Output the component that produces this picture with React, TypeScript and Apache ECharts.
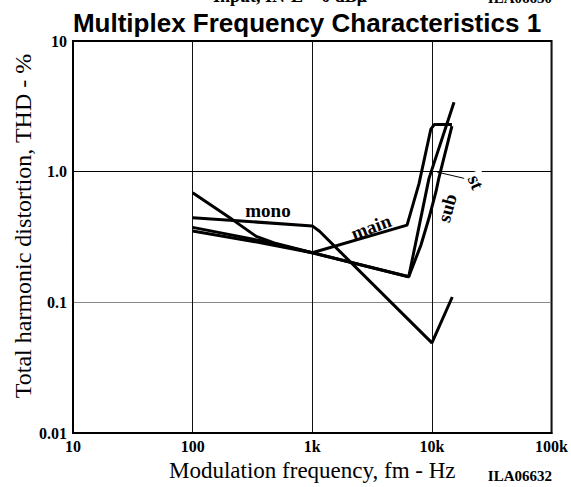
import React, { useEffect, useRef } from "react";
import * as echarts from "echarts";

// Frequencies (Hz) and THD values (%)
const monoFreq = [100, 1000, 1150, 10000, 14800];
const monoThd = [0.445, 0.385, 0.35, 0.049, 0.11];

const mainFreq = [100, 380, 1000, 6200, 7800, 9800, 10500, 14700];
const mainThd = [0.375, 0.295, 0.24, 0.39, 0.81, 2.12, 2.3, 2.3];

const stFreq = [100, 215, 340, 480, 1000, 6400, 9440, 15300];
const stThd = [0.69, 0.43, 0.32, 0.285, 0.24, 0.157, 0.885, 3.4];

const subFreq = [100, 380, 1000, 6400, 8100, 9440, 10800, 11400, 14700];
const subThd = [0.352, 0.285, 0.24, 0.157, 0.275, 0.44, 0.7, 0.885, 2.23];

const xTickLabels: Record<number, string> = { 10: "10", 100: "100", 1000: "1k", 10000: "10k", 100000: "100k" };
const yTickLabels: Record<string, string> = { "-2": "0.01", "-1": "0.1", "0": "1.0", "1": "10" };

const pairs = (xs: number[], ys: number[]) => xs.map((x, i) => [x, ys[i]]);

const SERIF = "'Liberation Serif', 'Times New Roman', serif";
const SANS = "'Liberation Sans', Arial, sans-serif";

export default function App() {
  const ref = useRef<HTMLDivElement>(null);
  useEffect(() => {
    if (!ref.current) return;
    const chart = echarts.init(ref.current, null, { renderer: "svg" });
    const lineSeries = (name: string, xs: number[], ys: number[]) => ({
      name,
      type: "line",
      data: pairs(xs, ys),
      symbol: "none",
      lineStyle: { color: "#000", width: 3 },
      z: 5,
    });
    chart.setOption({
      animation: false,
      backgroundColor: "#fff",
      grid: { left: 73, right: 18, top: 41, bottom: 50, show: true, borderColor: "#000", borderWidth: 2, backgroundColor: "transparent" },
      xAxis: {
        type: "log",
        logBase: 10,
        min: 10,
        max: 100000,
        axisLine: { show: true, lineStyle: { color: "#000", width: 2 } },
        axisTick: { show: false },
        minorTick: { show: false },
        axisLabel: {
          color: "#000",
          fontFamily: SERIF,
          fontWeight: "bold",
          fontSize: 16,
          margin: 5,
          formatter: (v: number) => xTickLabels[Math.round(v)] ?? "",
        },
        splitLine: { show: true, lineStyle: { color: "#111", width: 1 } },
        name: "Modulation frequency, fm - Hz",
        nameLocation: "middle",
        nameGap: 17,
        nameTextStyle: { color: "#000", fontFamily: SERIF, fontSize: 23, verticalAlign: "top" },
      },
      yAxis: {
        type: "log",
        logBase: 10,
        min: 0.01,
        max: 10,
        axisLine: { show: true, lineStyle: { color: "#000", width: 2 } },
        axisTick: { show: false },
        minorTick: { show: false },
        axisLabel: {
          color: "#000",
          fontFamily: SERIF,
          fontWeight: "bold",
          fontSize: 16,
          margin: 6,
          formatter: (v: number) => yTickLabels[String(Math.round(Math.log10(v)))] ?? "",
        },
        splitLine: { show: true, lineStyle: { color: ["#000", "#888", "#000", "#000"], width: 1 } },
      },
      series: [
        lineSeries("mono", monoFreq, monoThd),
        lineSeries("main", mainFreq, mainThd),
        lineSeries("st", stFreq, stThd),
        lineSeries("sub", subFreq, subThd),
      ],
      graphic: [
        { type: "text", x: 290, y: 5, style: { text: "Input, IN-L = 0 dBμ", font: `bold 18px ${SERIF}`, fill: "#000", align: "center", verticalAlign: "bottom" } },
        { type: "text", x: 552, y: 5, style: { text: "ILA06630", font: `bold 15px ${SERIF}`, fill: "#000", align: "right", verticalAlign: "bottom" } },
        { type: "text", x: 307, y: 23, style: { text: "Multiplex Frequency Characteristics 1", font: `bold 26px ${SANS}`, fill: "#000", align: "center", verticalAlign: "middle" } },
        { type: "text", x: 23, y: 226, rotation: Math.PI / 2, style: { text: "Total harmonic distortion, THD - %", font: `24px ${SERIF}`, fill: "#000", align: "center", verticalAlign: "middle" } },
        { type: "text", x: 552, y: 476, style: { text: "ILA06632", font: `bold 15px ${SERIF}`, fill: "#000", align: "right", verticalAlign: "middle" } },
        { type: "text", x: 268, y: 210, z: 10, style: { text: "mono", font: `bold 19px ${SERIF}`, fill: "#000", align: "center", verticalAlign: "middle" } },
        { type: "text", x: 371, y: 227, rotation: 0.36, z: 10, style: { text: "main", font: `bold 19px ${SERIF}`, fill: "#000", align: "center", verticalAlign: "middle" } },
        { type: "text", x: 447, y: 208, rotation: 1.3, z: 10, style: { text: "sub", font: `bold 19px ${SERIF}`, fill: "#000", align: "center", verticalAlign: "middle" } },
        { type: "line", z: 10, shape: { x1: 437, y1: 172, x2: 467, y2: 179 }, style: { stroke: "#000", lineWidth: 1 } },
        { type: "text", x: 476, y: 182, rotation: -1.15, z: 10, style: { text: "st", font: `bold 19px ${SERIF}`, fill: "#000", align: "center", verticalAlign: "middle", backgroundColor: "#fff", padding: [0, 3] } },
      ],
    });
    return () => chart.dispose();
  }, []);
  return <div ref={ref} style={{ position: "absolute", left: 0, top: 0, width: 571, height: 487 }} />;
}
